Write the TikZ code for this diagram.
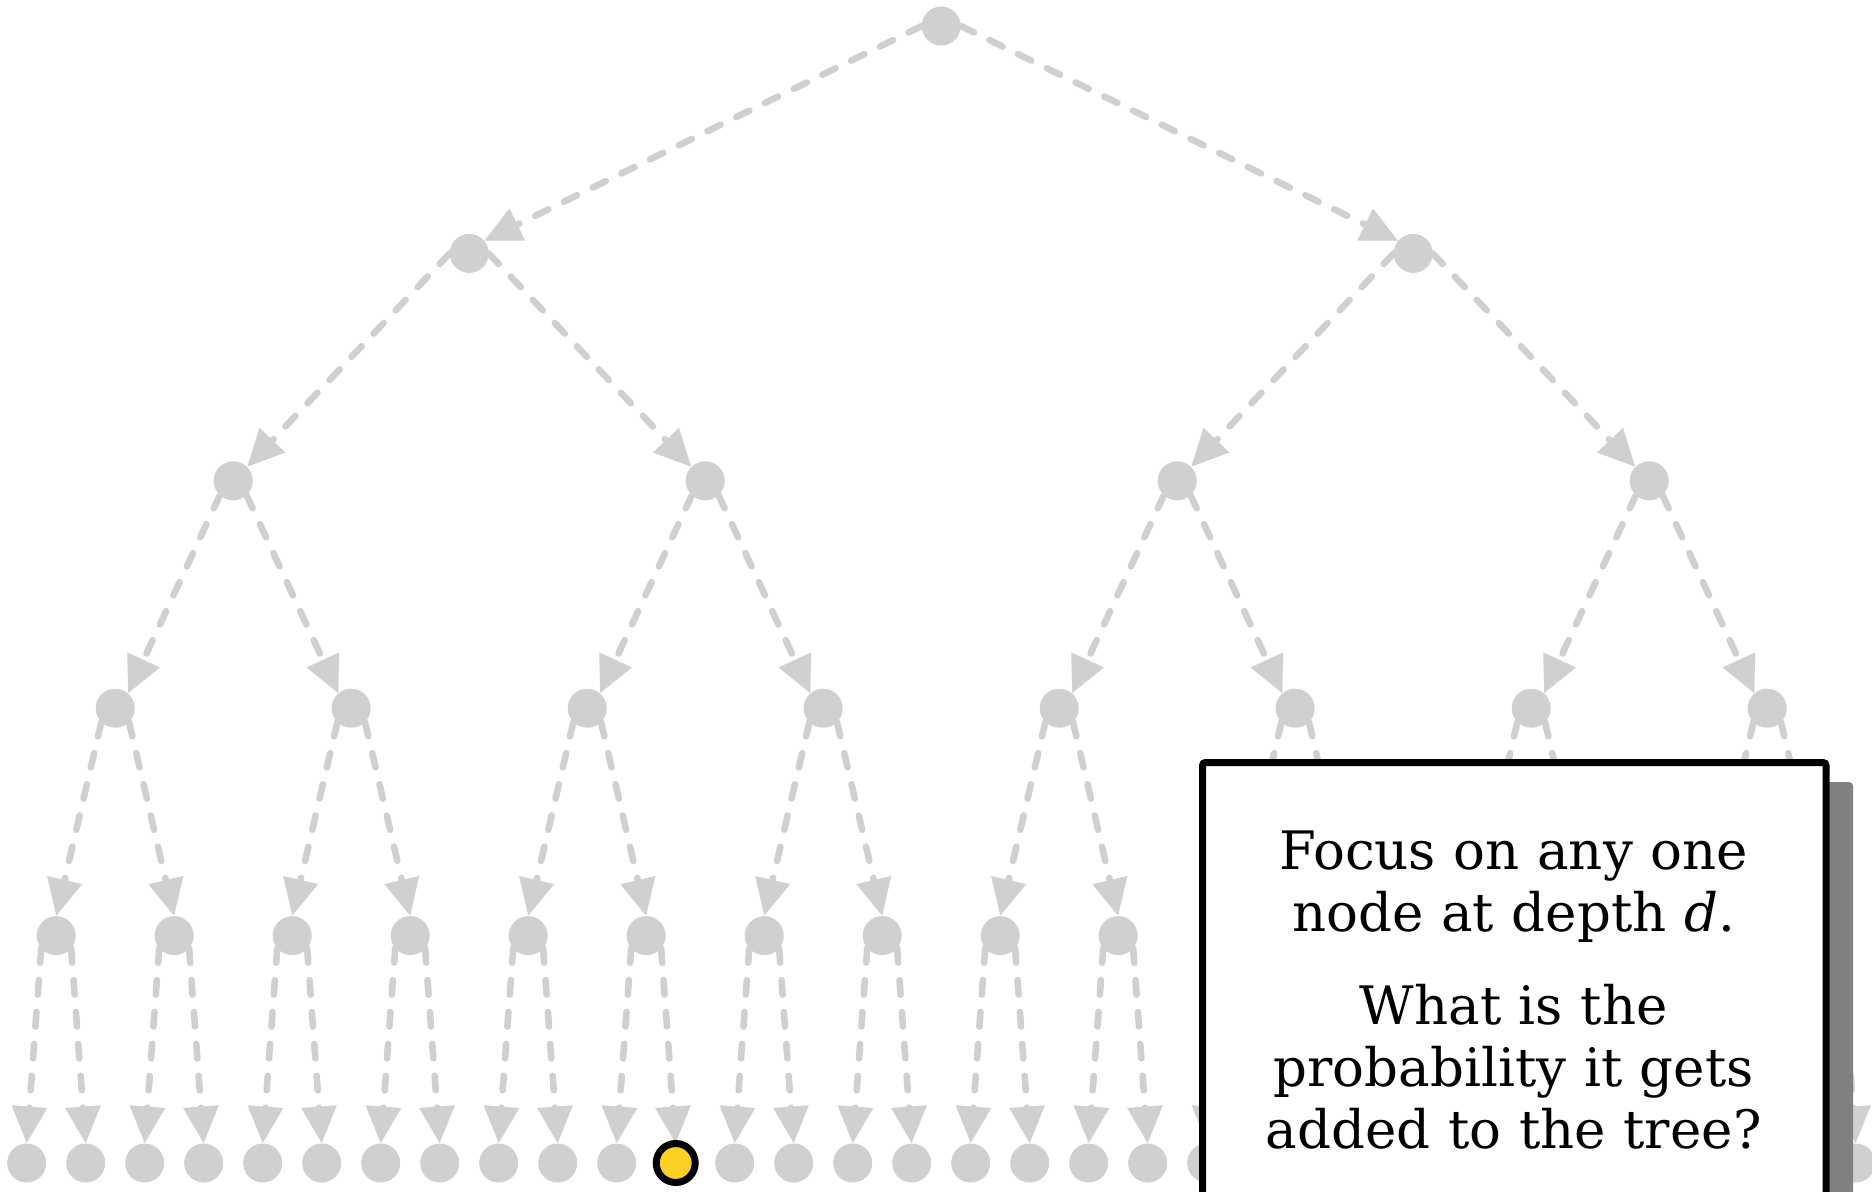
\documentclass[tikz,border=0pt]{standalone}
\usepackage{fontspec}
\setmainfont{DejaVu Serif}
\usetikzlibrary{arrows.meta,backgrounds}
\definecolor{treegray}{RGB}{208,208,208}
\definecolor{hlyellow}{RGB}{253,208,35}
\definecolor{shadowgray}{RGB}{128,128,128}
\tikzset{
  tnode/.style={circle,fill=treegray,inner sep=0pt,outer sep=0pt,minimum size=19.5pt},
  hlnode/.style={circle,fill=hlyellow,draw=black,line width=3.5pt,inner sep=0pt,outer sep=0pt,minimum size=19.5pt},
  edge/.style={draw=treegray,line width=3.3pt,line cap=round,dash pattern=on 7.3pt off 8.7pt,
    -{Triangle[length=18.5pt,width=17pt]}},
  infobox/.style={draw=black,fill=white,line width=3.5pt,rounded corners=1.5pt},
  shadowbox/.style={fill=shadowgray,rounded corners=2pt},
  infotext/.style={anchor=base,text width=300pt,align=center,inner sep=0pt,
    font=\fontsize{26.5}{31.2}\selectfont}
}
\begin{document}
\begin{tikzpicture}[x=0.5pt,y=-0.5pt]
\useasboundingbox (0,0) rectangle (1872,1192);
% nodes
\node[tnode] (n0-0) at (941.2,26) {};
\foreach \i in {0,1} \node[tnode] (n1-\i) at ({469.2+944*\i},253.4) {};
\foreach \i in {0,...,3} \node[tnode] (n2-\i) at ({233.2+472*\i},480.8) {};
\foreach \i in {0,...,7} \node[tnode] (n3-\i) at ({115.2+236*\i},708.2) {};
\foreach \i in {0,...,15} \node[tnode] (n4-\i) at ({56.2+118*\i},935.6) {};
\foreach \i in {0,...,31}{
  \ifnum\i=11
    \node[hlnode] (n5-\i) at ({26.7+59*\i},1163) {};
  \else
    \node[tnode] (n5-\i) at ({26.7+59*\i},1163) {};
  \fi
}
% edges (start / end border angles per level, left child; right child mirrored)
\begin{scope}[on background layer]
\foreach \d/\n/\sa/\ea in {0/1/180/40,1/2/180/45,2/4/227/49,3/8/225/90,4/16/220/90}{
  \pgfmathtruncatemacro{\dd}{\d+1}
  \pgfmathtruncatemacro{\last}{\n-1}
  \pgfmathtruncatemacro{\sb}{mod(540-\sa,360)}
  \pgfmathtruncatemacro{\eb}{180-\ea}
  \foreach \i in {0,...,\last}{
    \pgfmathtruncatemacro{\a}{2*\i}
    \pgfmathtruncatemacro{\b}{2*\i+1}
    \draw[edge] (n\d-\i.\sa) -- (n\dd-\a.\ea);
    \draw[edge] (n\d-\i.\sb) -- (n\dd-\b.\eb);
  }
}
\end{scope}
% info box
\fill[shadowbox] (1222,782) rectangle (1853,1320);
\draw[infobox] (1202.5,762.5) rectangle (1826,1300);
\node[infotext] (info) at (1513.7,869.3) {Focus on any one\\ node at depth \textit{d}.\\[15pt] What is the\\ probability it gets\\ added to the tree?};
\end{tikzpicture}
\end{document}
